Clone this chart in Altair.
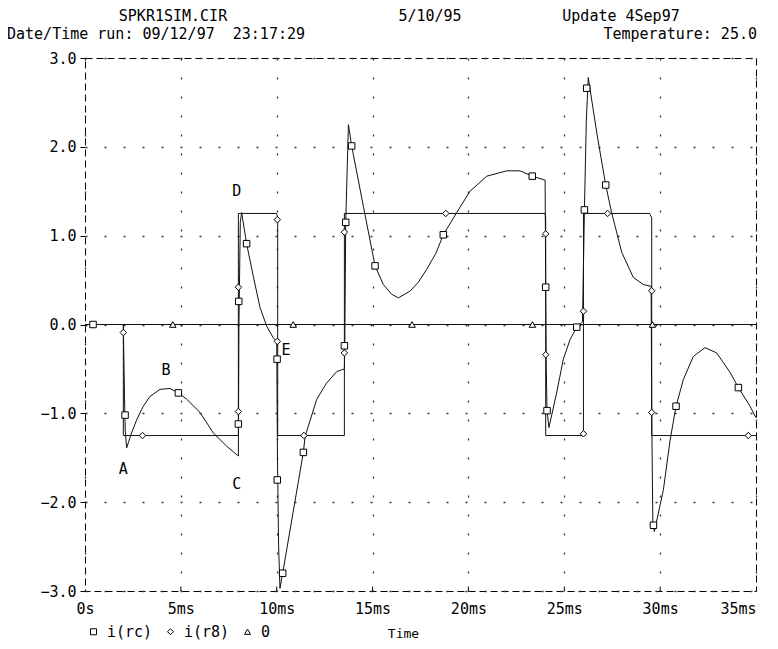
import altair as alt
import pandas as pd

FONT = "DejaVu Sans Mono"

# ---- trace i(rc) (line) ----
rc_t = [0, 2.0, 2.06, 2.1, 2.17, 2.43, 2.7, 3.04, 3.39, 3.91, 4.43, 4.87, 5.3, 6.0, 6.69, 7.39, 8.0,
        8.03, 8.1, 8.17, 8.43, 8.78, 9.13, 9.48, 9.82, 10.0,
        10.04, 10.1, 10.17, 10.31, 10.85, 11.39, 11.48, 12.09, 12.6, 13.13, 13.53,
        13.55, 13.6, 13.74, 13.91, 14.52, 15.13, 15.56, 16.0, 16.35, 16.95, 17.4, 17.82, 18.3, 18.69,
        19.39, 20.08, 20.96, 22.0, 22.69, 23.33, 24.0,
        24.03, 24.06, 24.1, 24.2, 24.6, 24.95, 25.3, 25.65, 25.95,
        26.05, 26.15, 26.25, 26.7, 27.16, 27.47, 28.0, 28.6, 29.12, 29.53,
        29.56, 29.62, 29.7, 30.17, 30.52, 30.83, 31.21, 31.73, 32.34, 32.95, 33.65, 34.08, 34.69, 35.0]
rc_v = [0, 0, -0.8, -1.2, -1.39, -1.22, -1.07, -0.92, -0.81, -0.73, -0.72, -0.77, -0.84, -0.99, -1.22, -1.37, -1.48,
        0.0, 1.15, 1.26, 0.91, 0.54, 0.19, -0.02, -0.15, -0.19,
        -1.5, -2.5, -2.97, -2.80, -2.12, -1.44, -1.26, -0.84, -0.66, -0.53, -0.5,
        -0.24, 1.15, 2.25, 2.01, 1.33, 0.66, 0.45, 0.34, 0.30, 0.375, 0.48, 0.62, 0.8, 1.01,
        1.26, 1.5, 1.67, 1.73, 1.73, 1.67, 1.625,
        0.42, -0.5, -0.97, -1.16, -0.77, -0.39, -0.17, -0.03, 0.03,
        1.29, 2.3, 2.78, 2.15, 1.57, 1.26, 0.81, 0.53, 0.45, 0.43,
        -1.0, -2.26, -2.33, -1.86, -1.30, -0.92, -0.62, -0.36, -0.26, -0.32, -0.54, -0.71, -0.92, -1.05]

# ---- trace i(r8) (line) ----
r8_t = [0, 2.0, 2.0, 8.0, 8.0, 10.0, 10.05, 10.05, 13.53, 13.53, 24.0, 24.03, 24.03, 26.0, 26.0, 29.45, 29.56, 29.56, 35.0]
r8_v = [0, 0, -1.25, -1.25, 1.25, 1.25, 1.2, -1.25, -1.25, 1.25, 1.25, 1.2, -1.25, -1.25, 1.25, 1.25, 1.2, -1.25, -1.25]

# ---- trace 0 ----
z_t = [0, 35]
z_v = [0, 0]

# ---- markers ----
rc_mt = [0.42, 2.09, 4.87, 8.0, 8.02, 8.43, 10.02, 10.03, 10.31, 11.39, 13.53, 13.6, 13.91, 15.13, 18.69,
         23.33, 24.03, 24.1, 25.65, 26.05, 26.17, 27.16, 29.65, 30.83, 34.08]
rc_mv = [0, -1.02, -0.77, -1.12, 0.26, 0.91, -0.39, -1.75, -2.80, -1.44, -0.24, 1.15, 2.01, 0.66, 1.01,
         1.67, 0.42, -0.97, -0.03, 1.29, 2.66, 1.57, -2.26, -0.92, -0.71]
r8_mt = [2.0, 3.0, 8.0, 8.0, 10.03, 10.03, 11.42, 13.53, 13.53, 18.82, 24.03, 24.03, 26.0, 26.0, 27.26, 29.56, 29.56, 34.6]
r8_mv = [-0.09, -1.25, -0.98, 0.42, 1.18, -0.19, -1.25, -0.32, 1.04, 1.25, 1.02, -0.34, -1.23, 0.15, 1.25, 0.38, -0.99, -1.25]
z_mt = [4.58, 10.86, 17.06, 23.34, 29.6]
z_mv = [0, 0, 0, 0, 0]

series = ["i(rc)", "i(r8)", "0"]
shapes = ["square", "diamond", "triangle-up"]

ann_text = ["A", "B", "C", "D", "E"]
ann_t = [1.99, 4.23, 7.91, 7.91, 10.49]
ann_v = [-1.63, -0.51, -1.8, 1.5, -0.29]

x_ticks = [0, 5, 10, 15, 20, 25, 30, 35]
y_ticks = [-3, -2, -1, 0, 1, 2, 3]
x_inner_ticks = [5, 10, 15, 20, 25, 30]

# ---- tables ----
rc_df = pd.DataFrame({"t": rc_t, "v": rc_v, "i": range(len(rc_t))})
r8_df = pd.DataFrame({"t": r8_t, "v": r8_v, "i": range(len(r8_t))})
z_df = pd.DataFrame({"t": z_t, "v": z_v, "i": range(len(z_t))})
mk_df = pd.concat([
    pd.DataFrame({"t": rc_mt, "v": rc_mv, "series": series[0], "shp": shapes[0]}),
    pd.DataFrame({"t": r8_mt, "v": r8_mv, "series": series[1], "shp": shapes[1]}),
    pd.DataFrame({"t": z_mt, "v": z_mv, "series": series[2], "shp": shapes[2]}),
], ignore_index=True)
ann_df = pd.DataFrame({"t": ann_t, "v": ann_v, "s": ann_text})
tick_df = pd.DataFrame({"t": x_inner_ticks})

xenc = alt.X(
    "t:Q",
    scale=alt.Scale(domain=[0, 35], nice=False, zero=False),
    axis=alt.Axis(
        values=x_ticks, title="Time",
        labelExpr="datum.value == 0 ? '0s' : datum.value + 'ms'",
        labelAlign={"condition": {"test": "datum.value >= 35", "value": "right"}, "value": "center"},
        labelFlush=False, labelOverlap=False,
        grid=True, gridDash=[2, 17], gridColor="#333", gridWidth=1.3,
        ticks=False, tickSize=0, domain=False, labelPadding=10,
        labelFont=FONT, labelFontSize=15, labelColor="black",
        titleFont=FONT, titleFontSize=13, titleFontWeight="normal", titleColor="black",
        titleX=318, titleY=36,
    ),
)
yenc = alt.Y(
    "v:Q",
    scale=alt.Scale(domain=[-3, 3], nice=False, zero=False),
    axis=alt.Axis(
        values=y_ticks, format=".1f", title=None,
        grid=True, gridDash=[2, 17], gridColor="#333", gridWidth=1.3,
        tickSize=5, tickColor="black", domain=False, labelPadding=4,
        labelFont=FONT, labelFontSize=15, labelColor="black",
    ),
)

LC = "#111"
zero_line = alt.Chart(z_df).mark_line(color=LC, strokeWidth=1).encode(x=xenc, y=yenc, order="i:Q")
r8_line = alt.Chart(r8_df).mark_line(color=LC, strokeWidth=1).encode(x=xenc, y=yenc, order="i:Q")
rc_line = alt.Chart(rc_df).mark_line(color=LC, strokeWidth=1).encode(x=xenc, y=yenc, order="i:Q")

# white-filled marker bodies (identity shapes, no legend)
marker_fill = alt.Chart(mk_df).mark_point(
    filled=True, color="white", size=42, opacity=1
).encode(x=xenc, y=yenc, shape=alt.Shape("shp:N", scale=None))

# marker outlines with the legend
markers = alt.Chart(mk_df).mark_point(
    filled=False, color="black", strokeWidth=1, size=42, opacity=1
).encode(
    x=xenc, y=yenc,
    shape=alt.Shape(
        "series:N",
        scale=alt.Scale(domain=series, range=shapes),
        legend=alt.Legend(
            title=None, orient="none", legendX=1, legendY=566, direction="horizontal",
            labelFont=FONT, labelFontSize=15, labelColor="black",
            symbolStrokeColor="black", symbolStrokeWidth=1,
            symbolSize=36, columnPadding=10, labelOffset=6, padding=0,
        ),
    ),
)

ann = alt.Chart(ann_df).mark_text(font=FONT, fontSize=15, color="black").encode(x=xenc, y=yenc, text="s:N")

inner_ticks = alt.Chart(tick_df).mark_rule(color="black", strokeWidth=1).encode(
    x=xenc, y=alt.datum(-3), y2=alt.datum(-2.95)
)


def header(s, px, py, align):
    return alt.Chart(pd.DataFrame({"s": [s]})).mark_text(
        align=align, baseline="middle", font=FONT, fontSize=15, color="black"
    ).encode(x=alt.value(px), y=alt.value(py), text="s:N")


headers = [
    header("SPKR1SIM.CIR", 88, -42, "center"),
    header("5/10/95", 345, -42, "center"),
    header("Update 4Sep97", 536, -42, "center"),
    header("Date/Time run: 09/12/97\u00a0 23:17:29", -78, -24, "left"),
    header("Temperature: 25.0", 672, -24, "right"),
]

chart = alt.layer(
    zero_line, r8_line, rc_line, inner_ticks, marker_fill, markers, ann, *headers
).resolve_scale(
    shape="independent"
).properties(
    width=671, height=533,
    autosize="none",
    padding={"left": 77, "top": 50, "right": 14, "bottom": 50},
).configure_view(
    stroke="black", strokeDash=[7, 4], strokeWidth=1
)

chart.save("out.html", embed_options={"renderer": "svg", "actions": False})
